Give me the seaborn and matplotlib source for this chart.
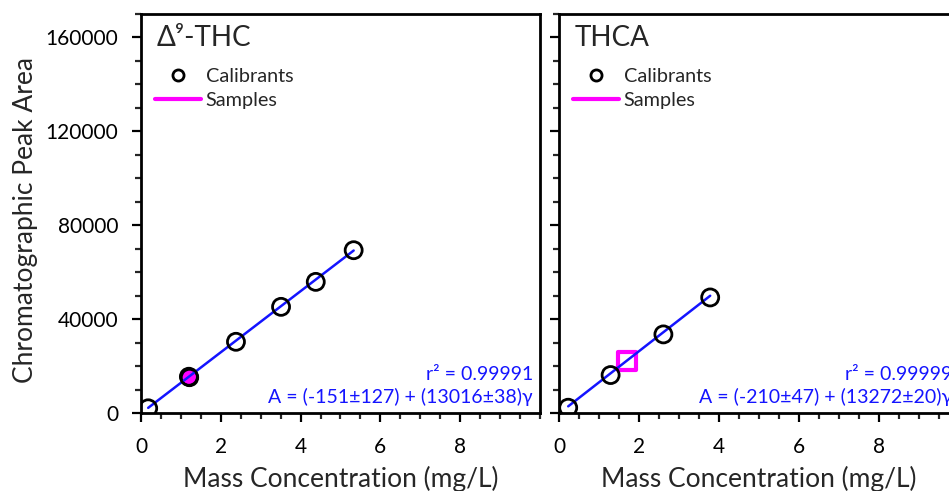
import matplotlib
matplotlib.use("Agg")
import matplotlib.pyplot as plt
from matplotlib.lines import Line2D
from matplotlib.ticker import MultipleLocator
import seaborn as sns
import pandas as pd
import numpy as np

# Calibration data (mass concentration in mg/L, peak area)
thc_conc = [0.18, 1.20, 2.38, 3.51, 4.38, 5.33]
thc_area = [2000, 15450, 30340, 45230, 55870, 69360]
thc_sample_conc = [1.20]
thc_sample_area = [15450]
thc_intercept, thc_slope = -151, 13016

thca_conc = [0.23, 1.29, 2.61, 3.78]
thca_area = [2250, 16170, 33490, 49230]
thca_sample_conc = [1.71]
thca_sample_area = [22130]
thca_intercept, thca_slope = -210, 13272

panel_titles = ["Δ⁹-THC", "THCA"]
fit_r2 = ["r² = 0.99991", "r² = 0.99999"]
fit_eqs = ["A = (-151±127) + (13016±38)γ", "A = (-210±47) + (13272±20)γ"]

sns.set_style("ticks")
plt.rcParams["font.family"] = ["Lato", "DejaVu Sans"]

W, H = 949, 491
fig = plt.figure(figsize=(W / 100, H / 100), dpi=100)
ax1 = fig.add_axes([141 / W, (H - 413) / H, 399 / W, 399 / H])
ax2 = fig.add_axes([559 / W, (H - 413) / H, 400 / W, 399 / H])

BLUE = "#1414ff"
MAGENTA = "#ff00ff"

panels = [
    (ax1, thc_conc, thc_area, thc_sample_conc, thc_sample_area, thc_intercept, thc_slope, "o"),
    (ax2, thca_conc, thca_area, thca_sample_conc, thca_sample_area, thca_intercept, thca_slope, "s"),
]

for i, (ax, xc, yc, xs, ys, b0, b1, smark) in enumerate(panels):
    cal = pd.DataFrame({"conc": xc, "area": yc})
    smp = pd.DataFrame({"conc": xs, "area": ys})
    fit_x = np.array([min(xc), max(xc)])
    fit = pd.DataFrame({"conc": fit_x, "area": b0 + b1 * fit_x})

    if smark == "o":
        sns.scatterplot(data=smp, x="conc", y="area", ax=ax, marker="o", s=140,
                        color=MAGENTA, edgecolor="black", linewidth=2, zorder=2)
    else:
        sns.scatterplot(data=smp, x="conc", y="area", ax=ax, marker="s", s=170,
                        facecolor="white", edgecolor=MAGENTA, linewidth=3, zorder=2)
    sns.lineplot(data=fit, x="conc", y="area", ax=ax, color=BLUE, linewidth=1.8, zorder=3)
    sns.scatterplot(data=cal, x="conc", y="area", ax=ax, marker="o", s=150,
                    facecolor="none", edgecolor="black", linewidth=2, zorder=4)

    ax.set_xlim(0, 10)
    ax.set_ylim(0, 170000)
    ax.xaxis.set_major_locator(MultipleLocator(2))
    ax.xaxis.set_minor_locator(MultipleLocator(0.5))
    ax.yaxis.set_major_locator(MultipleLocator(40000))
    ax.yaxis.set_minor_locator(MultipleLocator(10000))
    ax.set_xticks([0, 2, 4, 6, 8])
    ax.tick_params(axis="both", which="major", direction="out", length=6.5, width=1.6,
                   labelsize=15, colors="black")
    ax.tick_params(axis="x", which="major", pad=11)
    ax.tick_params(axis="y", which="major", pad=10)
    ax.tick_params(axis="both", which="minor", direction="out", length=4, width=1.6)
    for sp in ax.spines.values():
        sp.set_visible(True)
        sp.set_linewidth(2)
        sp.set_color("black")
    ax.set_xlabel("Mass Concentration (mg/L)", fontsize=19, labelpad=6)
    ax.set_ylabel("")

    ax.text(0.04, 0.92, panel_titles[i], transform=ax.transAxes, fontsize=20,
            ha="left", va="baseline")
    ax.text(0.982, 0.083, fit_r2[i], transform=ax.transAxes, fontsize=14,
            color=BLUE, ha="right", va="baseline")
    ax.text(0.982, 0.025, fit_eqs[i], transform=ax.transAxes, fontsize=14,
            color=BLUE, ha="right", va="baseline")

    handles = [
        Line2D([], [], linestyle="none", marker="o", markersize=8, markerfacecolor="none",
               markeredgecolor="black", markeredgewidth=2, label="Calibrants"),
        Line2D([], [], color=MAGENTA, linewidth=3, label="Samples"),
    ]
    ax.legend(handles=handles, loc="upper left", bbox_to_anchor=(0.0, 0.9),
              frameon=False, fontsize=14.3, handlelength=2.3, handletextpad=0.25,
              labelspacing=0.35, borderaxespad=0.3)

ax1.set_ylabel("Chromatographic Peak Area", fontsize=19)
ax1.yaxis.set_label_coords(-0.258, 0.484)
ax2.tick_params(axis="y", which="both", labelleft=False)

fig.savefig("out.png", dpi=100)
